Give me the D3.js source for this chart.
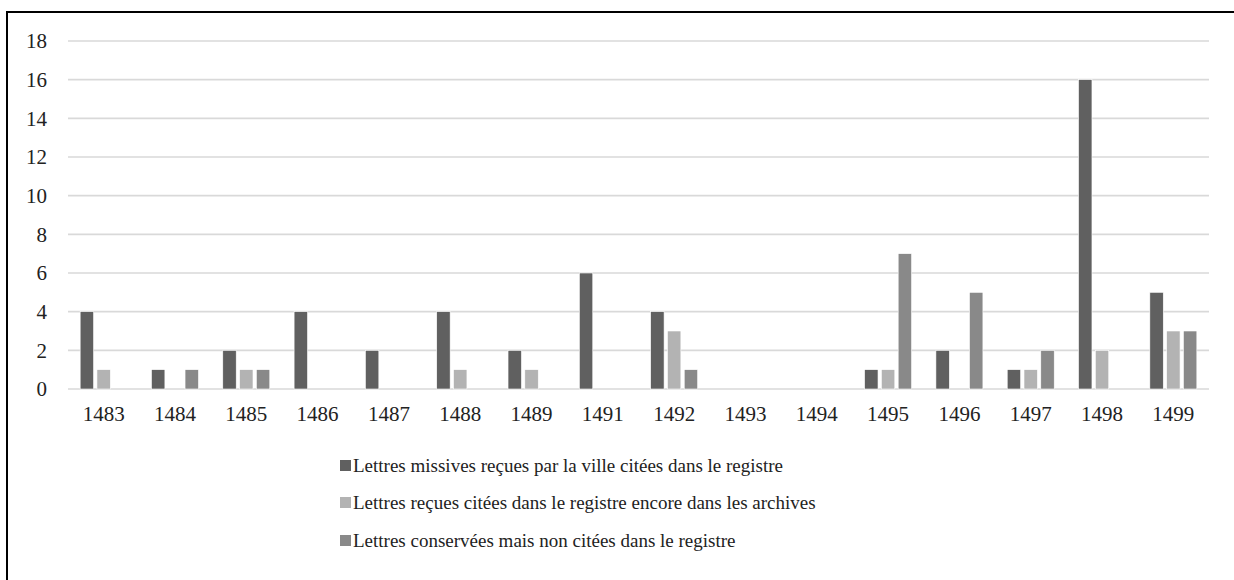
<!DOCTYPE html>
<html>
<head>
<meta charset="utf-8">
<script src="https://cdn.jsdelivr.net/npm/d3@7"></script>
<style>
  html, body { margin: 0; padding: 0; background: #fff; }
  svg { display: block; }
</style>
</head>
<body>
<svg id="chart" width="1234" height="580"></svg>
<script>
// Years of the register
const years = ["1483", "1484", "1485", "1486", "1487", "1488", "1489", "1491",
               "1492", "1493", "1494", "1495", "1496", "1497", "1498", "1499"];

// Series names (legend order)
const seriesNames = [
  "Lettres missives reçues par la ville citées dans le registre",
  "Lettres reçues citées dans le registre encore dans les archives",
  "Lettres conservées mais non citées dans le registre"
];

// Letter counts per year, one array per series
const missivesCitees   = [4, 1, 2, 4, 2, 4, 2, 6, 4, 0, 0, 1, 2, 1, 16, 5];
const citeesArchivees  = [1, 0, 1, 0, 0, 1, 1, 0, 3, 0, 0, 1, 0, 1, 2, 3];
const conserveesNonCit = [0, 1, 1, 0, 0, 0, 0, 0, 1, 0, 0, 7, 5, 2, 0, 3];

const yTicks = [0, 2, 4, 6, 8, 10, 12, 14, 16, 18];
const colors = ["#606060", "#b3b3b3", "#898989"];
const FONT = "Liberation Serif";

const seriesValues = [missivesCitees, citeesArchivees, conserveesNonCit];

const svg = d3.select("#chart");

// Outer frame (top and left edges)
svg.append("line").attr("x1", 7).attr("x2", 1234).attr("y1", 12).attr("y2", 12)
  .attr("stroke", "#000").attr("stroke-width", 2);
svg.append("line").attr("x1", 7).attr("x2", 7).attr("y1", 11).attr("y2", 580)
  .attr("stroke", "#000").attr("stroke-width", 2);

const plot = { left: 68, right: 1209, top: 41, bottom: 389 };

const x = d3.scaleBand().domain(years).range([plot.left, plot.right]).padding(0);
const y = d3.scaleLinear().domain([0, 18]).range([plot.bottom, plot.top]);

const groupWidth = 47;
const x1 = d3.scaleBand().domain([0, 1, 2])
  .range([-groupWidth / 2, groupWidth / 2]).paddingInner(0.2).paddingOuter(0);

// Horizontal gridlines
svg.append("g").selectAll("line").data(yTicks).join("line")
  .attr("x1", plot.left).attr("x2", plot.right)
  .attr("y1", d => y(d)).attr("y2", d => y(d))
  .attr("stroke", "#d9d9d9").attr("stroke-width", 1.6);

// Y axis labels
const yAxis = d3.axisLeft(y).tickValues(yTicks).tickSize(0).tickPadding(0);
const gy = svg.append("g").attr("transform", "translate(47,0)").call(yAxis)
  .attr("font-family", FONT).attr("font-size", 21);
gy.select(".domain").remove();
gy.selectAll("text").attr("fill", "#222");

// X axis labels
const xAxis = d3.axisBottom(x).tickSize(0).tickPadding(0);
const gx = svg.append("g").attr("transform", `translate(0,${plot.bottom + 17})`).call(xAxis)
  .attr("font-family", FONT).attr("font-size", 21);
gx.select(".domain").remove();
gx.selectAll("text").attr("fill", "#222");

// Bars
const rows = [];
years.forEach((yr, i) => {
  seriesValues.forEach((vals, s) => {
    if (vals[i] > 0) rows.push({ year: yr, s, v: vals[i] });
  });
});

svg.append("g").selectAll("rect").data(rows).join("rect")
  .attr("x", d => x(d.year) + x.bandwidth() / 2 + x1(d.s))
  .attr("width", x1.bandwidth())
  .attr("y", d => y(d.v))
  .attr("height", d => y(0) - y(d.v))
  .attr("fill", d => colors[d.s])
  .attr("stroke", "#fff").attr("stroke-width", 0.6);

// Legend
const legendRows = [465, 502, 540];
const lg = svg.append("g");
seriesNames.forEach((name, i) => {
  lg.append("rect").attr("x", 340).attr("y", legendRows[i] - 5).attr("width", 11).attr("height", 11)
    .attr("fill", colors[i]);
  lg.append("text").attr("x", 353).attr("y", legendRows[i]).attr("dy", "0.35em")
    .attr("font-family", FONT).attr("font-size", 19).attr("fill", "#222").text(name);
});
</script>
</body>
</html>
